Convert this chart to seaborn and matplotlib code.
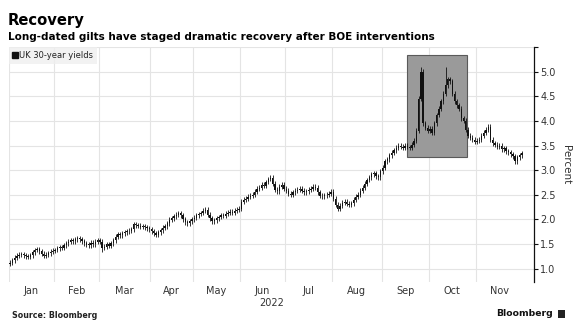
import numpy as np
import pandas as pd
import matplotlib
matplotlib.use("Agg")
import matplotlib.pyplot as plt
import seaborn as sns
from matplotlib.patches import Rectangle
from matplotlib.lines import Line2D

# Daily closing UK 30-year gilt yields (%), one value per London trading day
jan = [1.12, 1.17, 1.22, 1.26, 1.28, 1.29, 1.27, 1.25, 1.24, 1.27,
       1.33, 1.38, 1.40, 1.35, 1.30, 1.26, 1.28, 1.31, 1.34, 1.36]
feb = [1.38, 1.41, 1.44, 1.42, 1.48, 1.52, 1.55, 1.58, 1.56, 1.60,
       1.62, 1.60, 1.56, 1.52, 1.49, 1.48, 1.53, 1.50, 1.55, 1.58]
mar = [1.55, 1.42, 1.45, 1.50, 1.47, 1.52, 1.58, 1.65, 1.70, 1.68,
       1.72, 1.74, 1.76, 1.77, 1.80, 1.90, 1.88, 1.87, 1.85, 1.86,
       1.84, 1.82, 1.80]
apr = [1.76, 1.72, 1.69, 1.74, 1.78, 1.83, 1.86, 1.92, 1.99, 2.02,
       2.06, 2.10, 2.13, 2.08, 2.00, 1.94, 1.92, 1.96, 2.00]
may = [2.03, 2.08, 2.11, 2.13, 2.18, 2.20, 2.10, 2.02, 1.96, 1.98,
       2.02, 2.05, 2.09, 2.07, 2.12, 2.14, 2.16, 2.13, 2.18, 2.20, 2.22]
jun = [2.36, 2.40, 2.42, 2.46, 2.48, 2.50, 2.56, 2.62, 2.64, 2.70,
       2.68, 2.76, 2.82, 2.85, 2.72, 2.60, 2.57, 2.66, 2.70, 2.62]
jul = [2.58, 2.52, 2.50, 2.55, 2.58, 2.60, 2.62, 2.58, 2.55, 2.57,
       2.60, 2.62, 2.66, 2.64, 2.55, 2.48, 2.47, 2.49, 2.50, 2.52, 2.56]
aug = [2.42, 2.30, 2.22, 2.28, 2.34, 2.36, 2.32, 2.30, 2.33, 2.40,
       2.46, 2.50, 2.58, 2.64, 2.72, 2.80, 2.86, 2.92, 2.94, 2.88,
       2.86, 2.98]
sep = [3.05, 3.18, 3.22, 3.30, 3.35, 3.40, 3.46, 3.50, 3.48, 3.45,
       3.50, 3.47, 3.46, 3.52, 3.60, 3.80, 4.45, 5.00, 3.95, 3.86, 3.80]
oct_ = [3.84, 3.76, 3.95, 4.12, 4.25, 4.40, 4.55, 4.72, 4.85, 4.80,
        4.55, 4.40, 4.32, 4.25, 4.05, 4.00, 3.82, 3.70, 3.66, 3.62, 3.58]
nov = [3.60, 3.62, 3.70, 3.76, 3.82, 3.88, 3.62, 3.55, 3.52, 3.48,
       3.50, 3.42, 3.44, 3.38, 3.36, 3.32, 3.28, 3.18, 3.26, 3.30, 3.34]

closes = np.array(jan + feb + mar + apr + may + jun + jul + aug + sep + oct_ + nov)
opening_level = 1.10

# Intraday extremes on the most volatile sessions
session_highs = {"2022-09-27": 5.10, "2022-10-12": 5.10}
session_lows = {"2022-03-02": 1.34}

first_session = "2022-01-04"
uk_holidays = ["2022-04-15", "2022-04-18", "2022-05-02", "2022-06-02",
               "2022-06-03", "2022-08-29", "2022-09-19"]

month_labels = ["Jan", "Feb", "Mar", "Apr", "May", "Jun",
                "Jul", "Aug", "Sep", "Oct", "Nov"]
year_label = "2022"
y_ticks = [1.0, 1.5, 2.0, 2.5, 3.0, 3.5, 4.0, 4.5, 5.0, 5.5]

# BOE intervention window
window_start, window_end = "2022-09-16", "2022-10-25"
window_low, window_high = 3.27, 5.33

series_name = "UK 30-year yields"
title = "Recovery"
subtitle = "Long-dated gilts have staged dramatic recovery after BOE interventions"
source = "Source: Bloomberg"
brand = "Bloomberg"

# ---------------------------------------------------------------------------
sessions = pd.bdate_range(first_session, periods=len(closes), freq="C",
                          holidays=uk_holidays)
df = pd.DataFrame({"date": sessions, "close": closes})
df["pos"] = np.arange(len(df))
df["open"] = np.r_[opening_level, closes[:-1]]
wick = 0.05
df["high"] = df[["open", "close"]].max(axis=1) + wick
df["low"] = df[["open", "close"]].min(axis=1) - wick
pos_of = {d.strftime("%Y-%m-%d"): p for d, p in zip(df["date"], df["pos"])}
for d, v in session_highs.items():
    df.loc[pos_of[d], "high"] = v
for d, v in session_lows.items():
    df.loc[pos_of[d], "low"] = v

sns.set_theme(style="white")
plt.rcParams["font.family"] = ["DejaVu Sans"]

W, H = 579, 336
fig = plt.figure(figsize=(W / 100, H / 100), dpi=100)
ax = fig.add_axes([9 / W, 1 - 282 / H, (534 - 9) / W, (282 - 47) / H])

ink = "#111111"
grid_c = "#e4e4e4"

# Highlight window
left = pos_of[window_start] - 0.4
right = pos_of[window_end] + 0.4
ax.add_patch(Rectangle((left, window_low), right - left, window_high - window_low,
                       facecolor="#9a9a9a", edgecolor="#5a5a5a", linewidth=0.8,
                       zorder=2))

# Candles: wicks then bodies
ax.vlines(df["pos"], df["low"], df["high"], color=ink, linewidth=0.6, zorder=3)
body_lo = df[["open", "close"]].min(axis=1)
body_h = np.maximum((df["close"] - df["open"]).abs(), 0.012)
ax.bar(df["pos"], body_h, bottom=body_lo, width=0.6, color=ink,
       linewidth=0, zorder=3)

# Axes limits and grid
ax.set_xlim(-0.5, 233.4)
ax.set_ylim(0.73, 5.5)

month_start = df.groupby(df["date"].dt.month)["pos"].min().values
month_len = df.groupby(df["date"].dt.month)["pos"].count().values
boundaries = month_start - 0.5
centers = month_start - 0.5 + month_len / 2
ax.set_xticks(boundaries)
ax.set_xticklabels([])
ax.set_xticks(centers, minor=True)
ax.set_xticklabels(month_labels, minor=True)
ax.tick_params(axis="x", which="both", length=0, pad=3,
               labelsize=7, labelcolor="#333333")
ax.grid(axis="x", which="major", color=grid_c, linewidth=0.8)
ax.text(0.5, -0.068, year_label, transform=ax.transAxes, ha="center",
        va="top", fontsize=7, color="#333333")

ax.yaxis.tick_right()
ax.set_yticks(y_ticks)
ax.set_yticklabels([f"{t:.1f}" if t < 5.4 else "" for t in y_ticks])
ax.tick_params(axis="y", which="major", length=3, width=0.8, color=ink,
               direction="out", pad=1.5, labelsize=7, labelcolor="#333333",
               right=True, left=False)
ax.grid(axis="y", color=grid_c, linewidth=0.8)
ax.set_axisbelow(True)

for side in ["top", "left", "bottom"]:
    ax.spines[side].set_visible(False)
ax.spines["right"].set_color(ink)
ax.spines["right"].set_linewidth(0.9)

ax.yaxis.set_label_position("right")
ax.set_ylabel("Percent", rotation=270, fontsize=7.5, color="#333333",
              labelpad=11)

# Series key
handle = Line2D([], [], marker="s", linestyle="none", color=ink, markersize=4)
leg = ax.legend([handle], [series_name], loc="upper left",
                bbox_to_anchor=(0, 1), borderaxespad=0, frameon=True,
                fontsize=6, handlelength=0.6, handletextpad=0.2,
                borderpad=0.45, fancybox=False)
leg.get_frame().set_facecolor("#efefef")
leg.get_frame().set_edgecolor("none")
for t in leg.get_texts():
    t.set_color("#222222")

# Headings and footer
fig.text(8 / W, 1 - 24.5 / H, title, fontsize=10.6, fontweight="bold",
         color="black", va="baseline", ha="left")
fig.text(8 / W, 1 - 39.5 / H, subtitle, fontsize=7.5, fontweight="bold",
         color="black", va="baseline", ha="left")
fig.text(12 / W, 1 - 318 / H, source, fontsize=5.7, fontweight="bold",
         color="#222222", va="baseline", ha="left")
fig.text(553 / W, 1 - 316.5 / H, brand, fontsize=6.7, fontweight="bold",
         color="#111111", va="baseline", ha="right")
fig.patches.append(Rectangle((558 / W, 1 - 318 / H), 7 / W, 8 / H,
                             transform=fig.transFigure, facecolor="#222222",
                             edgecolor="none"))

fig.savefig("out.png", dpi=100, facecolor="white")
